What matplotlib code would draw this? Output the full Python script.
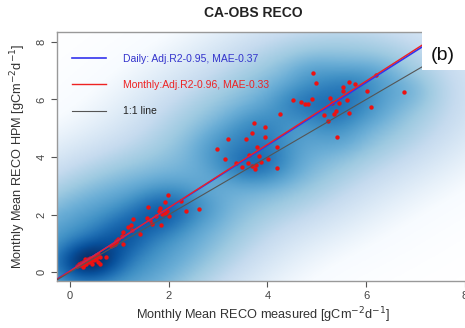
import numpy as np
import matplotlib.pyplot as plt
from matplotlib.colors import LinearSegmentedColormap
from matplotlib.patches import Rectangle

plt.rcParams['font.family'] = ['Liberation Sans', 'DejaVu Sans']

# monthly means: measured (x) vs HPM (y)
x_low = [0.15, 0.18, 0.20, 0.22, 0.25, 0.27, 0.28, 0.30, 0.31, 0.33, 0.35, 0.36,
         0.38, 0.40, 0.41, 0.43, 0.45, 0.47, 0.48, 0.50, 0.52, 0.53, 0.55, 0.57,
         0.30, 0.26, 0.45, 0.58, 0.62, 0.73, 0.61]
y_low = [0.22, 0.28, 0.25, 0.32, 0.30, 0.36, 0.27, 0.33, 0.40, 0.30, 0.38, 0.45,
         0.35, 0.42, 0.50, 0.38, 0.47, 0.55, 0.42, 0.50, 0.60, 0.45, 0.55, 0.65,
         0.48, 0.20, 0.30, 0.37, 0.28, 0.52, 0.54]
x_mid = [0.84, 0.88, 0.91, 0.94, 0.94, 0.98, 1.05, 1.07, 1.08, 1.18, 1.23, 1.25,
         1.27, 1.42, 1.56, 1.59, 1.62, 1.67, 1.75, 1.81, 1.82, 1.84, 1.86, 1.92,
         1.92, 1.96, 1.98, 2.01, 2.25, 2.35, 2.61]
y_mid = [0.92, 0.95, 0.99, 1.06, 1.09, 1.16, 1.27, 0.97, 1.41, 1.58, 1.64, 1.47,
         1.85, 1.32, 1.89, 2.26, 1.82, 1.69, 1.94, 2.13, 2.22, 1.64, 2.01, 2.07,
         2.45, 2.14, 2.67, 1.94, 2.47, 2.14, 2.20]
x_high = [2.98, 3.14, 3.21, 3.37, 3.48, 3.56, 3.61, 3.63, 3.68, 3.69, 3.73, 3.75,
          3.77, 3.79, 3.83, 3.86, 3.96, 3.96, 4.01, 4.19, 4.20, 4.25, 4.52, 4.68,
          4.76, 4.82, 4.91, 4.93, 4.99, 5.14, 5.23, 5.26, 5.30, 5.34, 5.38, 5.40,
          5.45, 5.53, 5.53, 5.62, 5.65, 5.66, 5.77, 6.01, 6.09, 6.20, 6.77]
y_high = [4.27, 3.94, 4.62, 3.81, 3.67, 4.63, 3.78, 4.07, 3.69, 4.83, 5.19, 3.59,
          3.74, 4.36, 4.05, 3.83, 5.06, 4.69, 3.92, 4.35, 3.61, 5.50, 5.98, 5.91,
          5.83, 5.83, 6.03, 6.93, 6.56, 5.46, 5.24, 6.06, 5.87, 5.49, 5.61, 4.69,
          5.89, 6.42, 6.30, 5.99, 5.52, 6.60, 6.53, 6.31, 5.74, 6.84, 6.27]

meas = np.array(x_low + x_mid + x_high)
hpm = np.array(y_low + y_mid + y_high)

# fitted lines (slope, intercept)
daily_fit = (1.09, 0.05)
monthly_fit = (1.10, 0.04)

labels = ["Daily: Adj.R2-0.95, MAE-0.37",
          "Monthly:Adj.R2-0.96, MAE-0.33",
          "1:1 line"]

xlim = (-0.26, 8.06)
ylim = (-0.30, 8.34)

fig = plt.figure(figsize=(4.65, 3.28), dpi=100)
ax = fig.add_axes([57 / 465, 1 - 281 / 328, 411 / 465, 249 / 328])

# smoothed density background (two-bandwidth kernel estimate of the points)
gx = np.linspace(xlim[0], xlim[1], 300)
gy = np.linspace(ylim[0], ylim[1], 300)
GX, GY = np.meshgrid(gx, gy)


def kde(bx, by):
    d = np.zeros_like(GX)
    for px, py in zip(meas, hpm):
        d += np.exp(-0.5 * (((GX - px) / bx) ** 2 + ((GY - py) / by) ** 2))
    return d / (bx * by)


dens = 0.35 * kde(0.35, 0.4) + 0.65 * kde(1.0, 1.1)
dens = dens ** 0.25
dens /= dens.max()
blues9 = ["#F7FBFF", "#DEEBF7", "#C6DBEF", "#9ECAE1", "#6BAED6",
          "#4292C6", "#2171B5", "#08519C", "#08306B"]
cmap = LinearSegmentedColormap.from_list("sm", ["white"] + blues9)
ax.imshow(dens, extent=(xlim[0], xlim[1], ylim[0], ylim[1]), origin="lower",
          cmap=cmap, aspect="auto", interpolation="bilinear", zorder=0)

ax.scatter(meas, hpm, s=10, color="#ee1111", zorder=3, linewidths=0)

xx = np.array(xlim)
ax.plot(xx, daily_fit[0] * xx + daily_fit[1], color="#3333ee", lw=1.2, label=labels[0], zorder=4)
ax.plot(xx, monthly_fit[0] * xx + monthly_fit[1], color="#ee2222", lw=1.0, label=labels[1], zorder=4)
ax.plot(xx, xx, color="#555555", lw=0.8, label=labels[2], zorder=4)

ax.set_xlim(xlim)
ax.set_ylim(ylim)
ax.set_xticks([0, 2, 4, 6, 8])
ax.set_yticks([0, 2, 4, 6, 8])
ax.tick_params(colors="#555555", labelsize=8, length=4, width=0.8, labelcolor="#444444")
for lab in ax.get_yticklabels():
    lab.set_rotation(90)
    lab.set_va("center")
for sp in ax.spines.values():
    sp.set_color("#999999")
    sp.set_linewidth(1.0)

ax.set_xlabel("Monthly Mean RECO measured [gCm$^{-2}$d$^{-1}$]", fontsize=9.2, color="#333333", labelpad=3)
ax.set_ylabel("Monthly Mean RECO HPM [gCm$^{-2}$d$^{-1}$]", fontsize=9.2, color="#333333", labelpad=6)
fig.text(253 / 465, 1 - 13 / 328, "CA-OBS RECO", ha="center", va="center",
         fontsize=10, fontweight="bold", color="#222222")

leg = ax.legend(loc="upper left", bbox_to_anchor=(72 / 465, 1 - 54 / 328),
                bbox_transform=fig.transFigure, frameon=False, fontsize=7.5,
                handlelength=3.3, handletextpad=1.6, labelspacing=1.55,
                borderpad=0, borderaxespad=0)
for txt, col in zip(leg.get_texts(), ["#3333cc", "#ee2222", "#222222"]):
    txt.set_color(col)

fig.add_artist(Rectangle((422 / 465, 1 - 70 / 328), 45 / 465, 45 / 328,
                         transform=fig.transFigure, facecolor="white",
                         edgecolor="none", zorder=10))
fig.text(443 / 465, 1 - 55 / 328, "(b)", ha="center", va="center",
         fontsize=14, color="#111111", zorder=11)

fig.savefig("out.png", dpi=100)
